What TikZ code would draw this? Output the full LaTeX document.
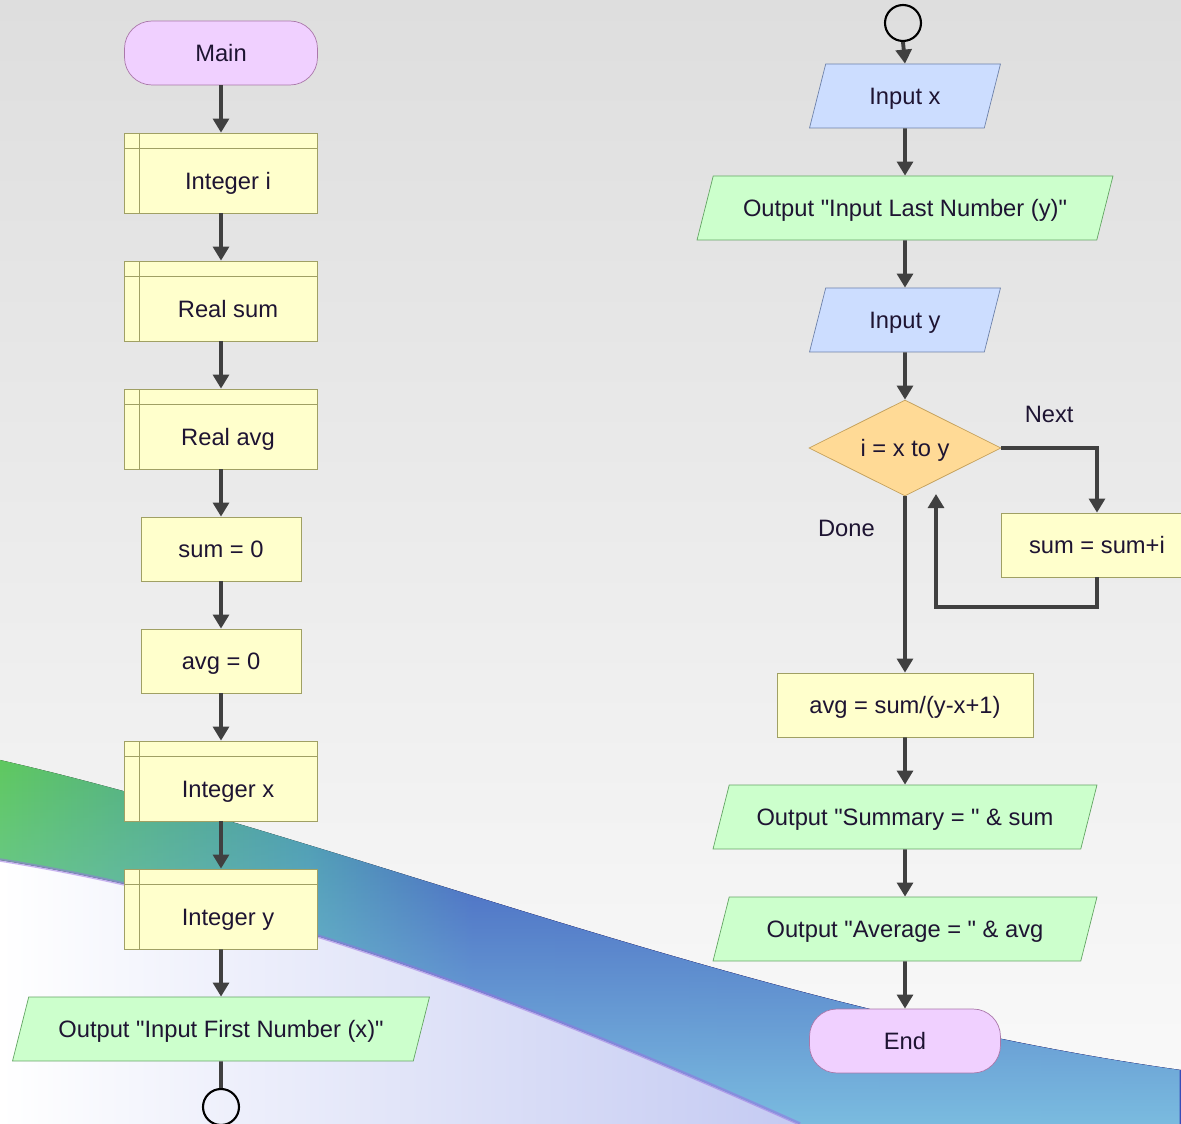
\documentclass[tikz,border=0pt]{standalone}
\usepackage{fontspec}
\setmainfont{Liberation Sans}
\usetikzlibrary{shapes.geometric,arrows.meta,fadings}
\definecolor{bgtop}{RGB}{222,222,222}
\definecolor{bgbottom}{RGB}{250,250,250}
\definecolor{swgreen}{RGB}{95,200,95}
\definecolor{swteal}{RGB}{70,150,170}
\definecolor{swblue}{RGB}{58,80,185}
\definecolor{swdeep}{RGB}{55,72,182}
\definecolor{swlight}{RGB}{130,200,228}
\definecolor{swlav}{RGB}{196,202,242}
\definecolor{swpurple}{RGB}{150,110,225}
\definecolor{termfill}{RGB}{240,208,255}
\definecolor{termline}{RGB}{170,120,170}
\definecolor{boxfill}{RGB}{255,255,204}
\definecolor{boxline}{RGB}{160,160,100}
\definecolor{infill}{RGB}{204,221,255}
\definecolor{inline}{RGB}{110,130,170}
\definecolor{outfill}{RGB}{204,255,204}
\definecolor{outline}{RGB}{100,165,100}
\definecolor{decfill}{RGB}{255,218,150}
\definecolor{decline}{RGB}{195,160,90}
\definecolor{flowline}{RGB}{64,64,64}
\definecolor{textcol}{RGB}{30,20,50}
\pgfdeclarehorizontalshading{swoosh}{100bp}{color(0bp)=(swgreen); color(25bp)=(swgreen); color(38bp)=(swteal); color(45bp)=(swblue); color(100bp)=(swdeep)}
\tikzfading[name=fade down, top color=transparent!100, bottom color=transparent!10]
\tikzstyle{termblock}=[rectangle, rounded corners=0.55cm, draw=termline, fill=termfill, minimum width=3.86cm, minimum height=1.28cm]
\tikzstyle{declblock}=[rectangle, draw=boxline, fill=boxfill, minimum width=3.86cm, minimum height=1.6cm, text height=0.7cm, text depth=0.04cm, execute at begin node={\hspace*{2.8mm}}, path picture={\draw[boxline] ([xshift=3mm]path picture bounding box.north west) -- ([xshift=3mm]path picture bounding box.south west); \draw[boxline] ([yshift=-3mm]path picture bounding box.north west) -- ([yshift=-3mm]path picture bounding box.north east);}]
\tikzstyle{procblock}=[rectangle, draw=boxline, fill=boxfill, minimum width=3.2cm, minimum height=1.28cm]
\tikzstyle{inblock}=[trapezium, trapezium left angle=65, trapezium right angle=115, trapezium stretches body, draw=inline, fill=infill, minimum width=3.82cm, minimum height=1.28cm]
\tikzstyle{outblock}=[trapezium, trapezium left angle=65, trapezium right angle=115, trapezium stretches body, draw=outline, fill=outfill, minimum width=7.68cm, minimum height=1.28cm]
\tikzstyle{loopdiamond}=[diamond, draw=decline, fill=decfill, aspect=2, minimum width=3.84cm, minimum height=1.92cm, inner sep=1pt]
\tikzstyle{connector}=[circle, draw=black, line width=1.2pt, minimum size=0.72cm, inner sep=0pt]
\tikzstyle{flow}=[->, line width=2.2pt, draw=flowline]

\begin{document}
\begin{tikzpicture}[x=0.02cm, y=-0.02cm, >={Triangle[width=9pt,length=8pt]}, every node/.style={font=\fontsize{13.5}{16}\selectfont, text=textcol, text height=0.4cm, text depth=0.06cm}]

\useasboundingbox (0,0) rectangle (1181,1124);
\clip (0,0) rectangle (1181,1124);
\fill[top color=bgtop, bottom color=bgbottom] (0,0) rectangle (1181,1124);
\fill[left color=white, right color=swlav] (0,860) .. controls (250,900) and (500,990) .. (800,1124) -- (0,1124) -- cycle;
\fill[shading=swoosh] (0,760) .. controls (350,840) and (750,1010) .. (1181,1070) -- (1181,1124) -- (800,1124) .. controls (500,990) and (250,900) .. (0,860) -- cycle;
\fill[swlight, path fading=fade down] (0,760) .. controls (350,840) and (750,1010) .. (1181,1070) -- (1181,1124) -- (800,1124) .. controls (500,990) and (250,900) .. (0,860) -- cycle;
\draw[swpurple, line width=2pt, opacity=0.5] (0,860) .. controls (250,900) and (500,990) .. (800,1124);

\node[termblock] (p1) at (221,53) {Main};
\node[declblock] (p2) at (221,173) {Integer i};
\node[declblock] (p3) at (221,301) {Real sum};
\node[declblock] (p4) at (221,429) {Real avg};
\node[procblock] (p5) at (221,549) {sum = 0};
\node[procblock] (p6) at (221,661) {avg = 0};
\node[declblock] (p7) at (221,781) {Integer x};
\node[declblock] (p8) at (221,909) {Integer y};
\node[outblock, minimum width=8.34cm] (p9) at (221,1029) {Output \textquotedbl Input First Number (x)\textquotedbl};
\node[connector] (c1) at (221,1107) {};

\node[connector] (c2) at (903,23) {};
\node[inblock] (q1) at (905,96) {Input x};
\node[outblock, minimum width=8.32cm] (q2) at (905,208) {Output \textquotedbl Input Last Number (y)\textquotedbl};
\node[inblock] (q3) at (905,320) {Input y};
\node[loopdiamond] (check1) at (905,448) {i = x to y};
\node[procblock, minimum width=3.84cm] (q4) at (1097,545) {sum = sum+i};
\node[procblock, minimum width=5.12cm] (q5) at (905,705) {avg = sum/(y-x+1)};
\node[outblock] (q6) at (905,817) {Output \textquotedbl Summary = \textquotedbl{} \& sum};
\node[outblock] (q7) at (905,929) {Output \textquotedbl Average = \textquotedbl{} \& avg};
\node[termblock, minimum width=3.82cm] (q8) at (905,1041) {End};
\coordinate (back) at (936,494);

\draw[flow] (p1.south) -- (p2.north);
\draw[flow] (p2.south) -- (p3.north);
\draw[flow] (p3.south) -- (p4.north);
\draw[flow] (p4.south) -- (p5.north);
\draw[flow] (p5.south) -- (p6.north);
\draw[flow] (p6.south) -- (p7.north);
\draw[flow] (p7.south) -- (p8.north);
\draw[flow] (p8.south) -- (p9.north);
\draw[line width=2.2pt, flowline] (p9.south) -- (c1.north);

\draw[flow] (c2.south) -- (q1.north);
\draw[flow] (q1.south) -- (q2.north);
\draw[flow] (q2.south) -- (q3.north);
\draw[flow] (q3.south) -- (check1.north);
\draw[flow] (check1.east) -- node[above=0.3cm] {Next} (check1.east -| q4.north) -- (q4.north);
\draw[flow] (q4.south) -- ++(0,30) -| (back);
\draw[flow] (check1.south) -- node[pos=0.18, left=0.45cm] {Done} (q5.north);
\draw[flow] (q5.south) -- (q6.north);
\draw[flow] (q6.south) -- (q7.north);
\draw[flow] (q7.south) -- (q8.north);

\end{tikzpicture}
\end{document}
